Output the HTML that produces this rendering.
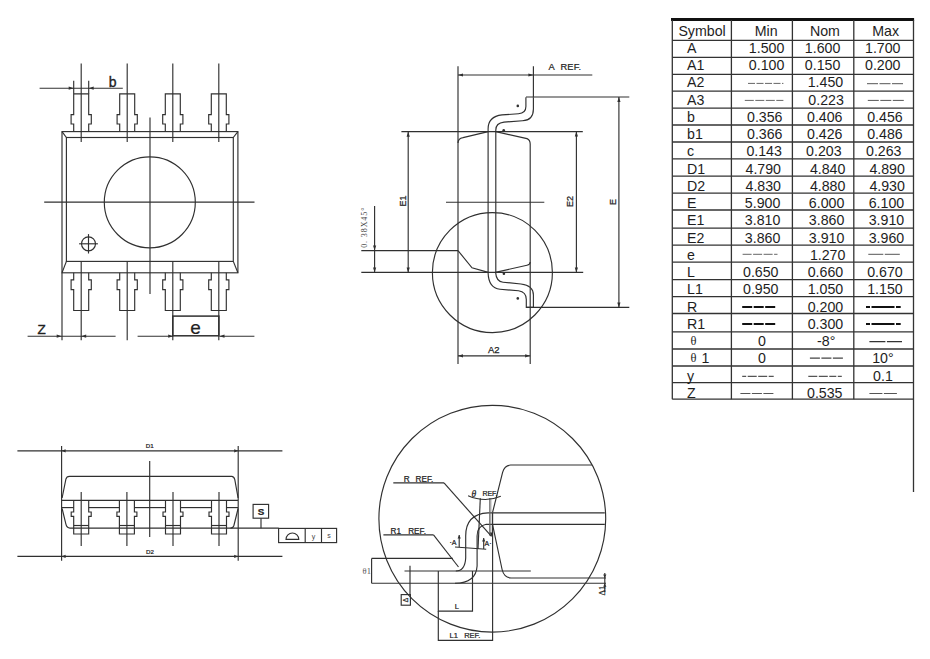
<!DOCTYPE html>
<html><head><meta charset="utf-8"><style>
html,body{margin:0;padding:0;background:#fff;}
svg{display:block;}
</style></head><body>
<svg width="930" height="659" viewBox="0 0 930 659">
<rect width="930" height="659" fill="#fff"/>
<g><rect x="62" y="131.6" width="175.9" height="141.20000000000002" stroke="#303030" stroke-width="1.15" fill="none"/>
<rect x="66.4" y="137.5" width="166.9" height="123.89999999999998" stroke="#303030" stroke-width="1.15" fill="none"/>
<line x1="62" y1="131.6" x2="66.4" y2="137.5" stroke="#303030" stroke-width="1.15"/>
<line x1="237.9" y1="131.6" x2="233.3" y2="137.5" stroke="#303030" stroke-width="1.15"/>
<line x1="62" y1="272.8" x2="66.4" y2="261.4" stroke="#303030" stroke-width="1.15"/>
<line x1="237.9" y1="272.8" x2="233.3" y2="261.4" stroke="#303030" stroke-width="1.15"/>
<path d="M73.7,131.6 V124 H71.10000000000001 V114.6 H73.7 V93.8 H88.7 V114.6 H91.3 V124 H88.7 V131.6" stroke="#303030" stroke-width="1.15" fill="none"/>
<path d="M73.7,272.8 V279.8 H71.10000000000001 V289.6 H73.7 V310.5 H88.7 V289.6 H91.3 V279.8 H88.7 V272.8" stroke="#303030" stroke-width="1.15" fill="none"/>
<line x1="81.2" y1="63.6" x2="81.2" y2="142" stroke="#303030" stroke-width="1.15"/>
<line x1="81.2" y1="261.4" x2="81.2" y2="340.3" stroke="#303030" stroke-width="1.15"/>
<path d="M119.7,131.6 V124 H117.10000000000001 V114.6 H119.7 V93.8 H134.7 V114.6 H137.29999999999998 V124 H134.7 V131.6" stroke="#303030" stroke-width="1.15" fill="none"/>
<path d="M119.7,272.8 V279.8 H117.10000000000001 V289.6 H119.7 V310.5 H134.7 V289.6 H137.29999999999998 V279.8 H134.7 V272.8" stroke="#303030" stroke-width="1.15" fill="none"/>
<line x1="127.2" y1="63.6" x2="127.2" y2="142" stroke="#303030" stroke-width="1.15"/>
<line x1="127.2" y1="261.4" x2="127.2" y2="340.3" stroke="#303030" stroke-width="1.15"/>
<path d="M165.3,131.6 V124 H162.70000000000002 V114.6 H165.3 V93.8 H180.3 V114.6 H182.9 V124 H180.3 V131.6" stroke="#303030" stroke-width="1.15" fill="none"/>
<path d="M165.3,272.8 V279.8 H162.70000000000002 V289.6 H165.3 V310.5 H180.3 V289.6 H182.9 V279.8 H180.3 V272.8" stroke="#303030" stroke-width="1.15" fill="none"/>
<line x1="172.8" y1="63.6" x2="172.8" y2="142" stroke="#303030" stroke-width="1.15"/>
<line x1="172.8" y1="261.4" x2="172.8" y2="340.3" stroke="#303030" stroke-width="1.15"/>
<path d="M211.3,131.6 V124 H208.70000000000002 V114.6 H211.3 V93.8 H226.3 V114.6 H228.9 V124 H226.3 V131.6" stroke="#303030" stroke-width="1.15" fill="none"/>
<path d="M211.3,272.8 V279.8 H208.70000000000002 V289.6 H211.3 V310.5 H226.3 V289.6 H228.9 V279.8 H226.3 V272.8" stroke="#303030" stroke-width="1.15" fill="none"/>
<line x1="218.8" y1="63.6" x2="218.8" y2="142" stroke="#303030" stroke-width="1.15"/>
<line x1="218.8" y1="261.4" x2="218.8" y2="340.3" stroke="#303030" stroke-width="1.15"/>
<line x1="150" y1="117.6" x2="150" y2="294" stroke="#303030" stroke-width="1.15"/>
<line x1="44.2" y1="202.1" x2="254.5" y2="202.1" stroke="#303030" stroke-width="1.15"/>
<circle cx="149.8" cy="202.3" r="45.5" stroke="#303030" stroke-width="1.15" fill="none"/>
<circle cx="88.5" cy="243.8" r="7.0" stroke="#303030" stroke-width="1.15" fill="none"/>
<line x1="79.1" y1="243.8" x2="97.9" y2="243.8" stroke="#303030" stroke-width="1.15"/>
<line x1="88.5" y1="234.1" x2="88.5" y2="253.5" stroke="#303030" stroke-width="1.15"/>
<line x1="73.7" y1="80.7" x2="73.7" y2="93.8" stroke="#303030" stroke-width="1.15"/>
<line x1="88.7" y1="80.7" x2="88.7" y2="93.8" stroke="#303030" stroke-width="1.15"/>
<line x1="39.6" y1="88.2" x2="122.8" y2="88.2" stroke="#303030" stroke-width="1.15"/>
<path d="M73.7,88.2 L68.7,86.60000000000001 L68.7,89.8 Z" fill="#303030" stroke="none"/>
<path d="M88.7,88.2 L93.7,86.60000000000001 L93.7,89.8 Z" fill="#303030" stroke="none"/>
<text x="108.7" y="86.8" font-family="Liberation Sans" font-size="14" font-weight="normal" text-anchor="start" fill="#222" stroke="#222" stroke-width="0.35">b</text>
<line x1="62" y1="272.8" x2="62" y2="340.3" stroke="#303030" stroke-width="1.15"/>
<line x1="27.6" y1="336.2" x2="115.6" y2="336.2" stroke="#303030" stroke-width="1.15"/>
<path d="M61.7,336.2 L56.7,334.59999999999997 L56.7,337.8 Z" fill="#303030" stroke="none"/>
<path d="M81.2,336.2 L86.2,334.59999999999997 L86.2,337.8 Z" fill="#303030" stroke="none"/>
<text x="37.4" y="333.8" font-family="Liberation Sans" font-size="13.5" font-weight="normal" text-anchor="start" fill="#222" stroke="#222" stroke-width="0.35">Z</text>
<rect x="172.8" y="316.1" width="46.1" height="19.7" stroke="#303030" stroke-width="1.5" fill="none"/>
<line x1="137.6" y1="336.2" x2="173.2" y2="336.2" stroke="#303030" stroke-width="1.15"/>
<line x1="219.5" y1="336.2" x2="254.4" y2="336.2" stroke="#303030" stroke-width="1.15"/>
<path d="M173.2,336.2 L168.2,334.59999999999997 L168.2,337.8 Z" fill="#303030" stroke="none"/>
<path d="M219.5,336.2 L224.5,334.59999999999997 L224.5,337.8 Z" fill="#303030" stroke="none"/>
<text x="195.5" y="334.3" font-family="Liberation Sans" font-size="19" font-weight="normal" text-anchor="middle" fill="#222" stroke="#222" stroke-width="0.2">e</text>
<line x1="458" y1="66.3" x2="458" y2="364" stroke="#303030" stroke-width="1.15"/>
<line x1="533.4" y1="66.3" x2="533.4" y2="97.2" stroke="#303030" stroke-width="1.15"/>
<line x1="458" y1="75" x2="592.3" y2="75" stroke="#303030" stroke-width="1.15"/>
<path d="M458,75 L463,73.4 L463,76.6 Z" fill="#303030" stroke="none"/>
<path d="M533.4,75 L528.4,73.4 L528.4,76.6 Z" fill="#303030" stroke="none"/>
<text x="548.6" y="69.8" font-family="Liberation Sans" font-size="9.3" font-weight="normal" text-anchor="start" fill="#222" stroke="#222" stroke-width="0.22" letter-spacing="0.15">A&#160;&#160;REF.</text>
<line x1="526" y1="97" x2="629.3" y2="97" stroke="#303030" stroke-width="1.15"/>
<line x1="526" y1="307.4" x2="629.3" y2="307.4" stroke="#303030" stroke-width="1.15"/>
<line x1="401.4" y1="131.6" x2="582.8" y2="131.6" stroke="#303030" stroke-width="1.15"/>
<line x1="361.3" y1="272.4" x2="583.2" y2="272.4" stroke="#303030" stroke-width="1.15"/>
<line x1="361.3" y1="250.6" x2="458" y2="250.6" stroke="#303030" stroke-width="1.15"/>
<path d="M458,143 Q458,138.5 463,137.6 L488.2,131.6" stroke="#303030" stroke-width="1.15" fill="none"/>
<path d="M495.8,131.6 L527,138.6 Q530.2,140 530.2,144 V262 Q530.2,264.5 527,265.2 L495.4,272.4" stroke="#303030" stroke-width="1.15" fill="none"/>
<path d="M458,250.6 L472,267.8 L488.3,272.4" stroke="#303030" stroke-width="1.15" fill="none"/>
<line x1="530.2" y1="262" x2="530.2" y2="364" stroke="#303030" stroke-width="1.15"/>
<path d="M525.9,97.2 V106.5 Q525.9,113.2 518.5,113.7 L502,114.9 Q488.1,116.5 488.1,129 V273" stroke="#303030" stroke-width="1.15" fill="none"/>
<path d="M533.4,97.2 V109 Q533.4,120.3 522.5,120.8 L504,122.1 Q495.8,123 495.8,130 V273" stroke="#303030" stroke-width="1.15" fill="none"/>
<path d="M488.1,273 Q488.6,288 500,289.2 L518.5,290.8 Q526.3,292 526.3,299.5 V307.3 H533.4" stroke="#303030" stroke-width="1.15" fill="none"/>
<path d="M495.6,272.4 Q496.3,281.6 503,282.2 L521,284 Q533.4,285.5 533.4,295 V307.3" stroke="#303030" stroke-width="1.15" fill="none"/>
<circle cx="517.8" cy="105.9" r="1.1" stroke="none" stroke-width="0" fill="none"/>
<circle cx="517.8" cy="105.9" r="1.3" fill="#303030"/>
<circle cx="503.7" cy="130.2" r="1.1" stroke="none" stroke-width="0" fill="none"/>
<circle cx="503.7" cy="130.2" r="1.3" fill="#303030"/>
<circle cx="503.9" cy="273.8" r="1.1" stroke="none" stroke-width="0" fill="none"/>
<circle cx="503.9" cy="273.8" r="1.3" fill="#303030"/>
<circle cx="517.8" cy="298.4" r="1.1" stroke="none" stroke-width="0" fill="none"/>
<circle cx="517.8" cy="298.4" r="1.3" fill="#303030"/>
<line x1="446" y1="202.2" x2="544.3" y2="202.2" stroke="#303030" stroke-width="1.15"/>
<circle cx="492.4" cy="272.6" r="60" stroke="#303030" stroke-width="1.15" fill="none"/>
<line x1="458" y1="355.8" x2="530.1" y2="355.8" stroke="#303030" stroke-width="1.15"/>
<path d="M458,355.8 L463,354.2 L463,357.40000000000003 Z" fill="#303030" stroke="none"/>
<path d="M530.1,355.8 L525.1,354.2 L525.1,357.40000000000003 Z" fill="#303030" stroke="none"/>
<text x="493.8" y="352.6" font-family="Liberation Sans" font-size="9.5" font-weight="normal" text-anchor="middle" fill="#222" stroke="#222" stroke-width="0.25">A2</text>
<line x1="408.2" y1="131.8" x2="408.2" y2="272.4" stroke="#303030" stroke-width="1.15"/>
<path d="M408.2,131.8 L406.59999999999997,136.8 L409.8,136.8 Z" fill="#303030" stroke="none"/>
<path d="M408.2,272.4 L406.59999999999997,267.4 L409.8,267.4 Z" fill="#303030" stroke="none"/>
<text x="0" y="0" font-family="Liberation Sans" font-size="9" font-weight="normal" text-anchor="middle" fill="#222" stroke="#222" stroke-width="0.25" transform="translate(405.9,201) rotate(-90)">E1</text>
<line x1="374.6" y1="206" x2="374.6" y2="272.4" stroke="#303030" stroke-width="1.15"/>
<path d="M374.6,272.4 L373.0,267.4 L376.20000000000005,267.4 Z" fill="#303030" stroke="none"/>
<path d="M374.6,250.6 L373.0,245.6 L376.20000000000005,245.6 Z" fill="#303030" stroke="none"/>
<text x="0" y="0" font-family="Liberation Serif" font-size="8" font-weight="normal" text-anchor="middle" fill="#444" letter-spacing="0.9" transform="translate(367.4,227.3) rotate(-90)">0.&#160;38X45&#176;</text>
<line x1="576.4" y1="131.6" x2="576.4" y2="272.4" stroke="#303030" stroke-width="1.15"/>
<path d="M576.4,131.6 L574.8,136.6 L578.0,136.6 Z" fill="#303030" stroke="none"/>
<path d="M576.4,272.4 L574.8,267.4 L578.0,267.4 Z" fill="#303030" stroke="none"/>
<text x="0" y="0" font-family="Liberation Sans" font-size="9" font-weight="normal" text-anchor="middle" fill="#222" stroke="#222" stroke-width="0.25" transform="translate(572.9,201.5) rotate(-90)">E2</text>
<line x1="618.9" y1="97" x2="618.9" y2="307.4" stroke="#303030" stroke-width="1.15"/>
<path d="M618.9,97 L617.3,102 L620.5,102 Z" fill="#303030" stroke="none"/>
<path d="M618.9,307.4 L617.3,302.4 L620.5,302.4 Z" fill="#303030" stroke="none"/>
<text x="0" y="0" font-family="Liberation Sans" font-size="9" font-weight="normal" text-anchor="middle" fill="#222" stroke="#222" stroke-width="0.25" transform="translate(615.6,201.9) rotate(-90)">E</text>
<line x1="17.4" y1="450.8" x2="282.4" y2="450.8" stroke="#303030" stroke-width="1.15"/>
<line x1="17.4" y1="556.4" x2="282.4" y2="556.4" stroke="#303030" stroke-width="1.15"/>
<line x1="61.6" y1="446" x2="61.6" y2="560.7" stroke="#303030" stroke-width="1.15"/>
<line x1="238.2" y1="446" x2="238.2" y2="560.7" stroke="#303030" stroke-width="1.15"/>
<path d="M61.6,450.8 L65.6,449.2 L65.6,452.40000000000003 Z" fill="#303030" stroke="none"/>
<path d="M238.2,450.8 L234.2,449.2 L234.2,452.40000000000003 Z" fill="#303030" stroke="none"/>
<path d="M61.6,556.4 L65.6,554.8 L65.6,558.0 Z" fill="#303030" stroke="none"/>
<path d="M238.2,556.4 L234.2,554.8 L234.2,558.0 Z" fill="#303030" stroke="none"/>
<text x="149.7" y="448" font-family="Liberation Sans" font-size="6.2" font-weight="normal" text-anchor="middle" fill="#222" stroke="#222" stroke-width="0.22" >D1</text>
<text x="150" y="554" font-family="Liberation Sans" font-size="6.2" font-weight="normal" text-anchor="middle" fill="#222" stroke="#222" stroke-width="0.22" >D2</text>
<path d="M62.1,498 L65.9,479.2 Q66.6,476.3 69.5,476.3 H231.6 Q234,476.3 234.8,479.6 L238.1,498" stroke="#303030" stroke-width="1.15" fill="none"/>
<line x1="62" y1="500.4" x2="238" y2="500.4" stroke="#303030" stroke-width="1.15"/>
<path d="M62.1,508.5 L65.9,524.2 Q66.8,528.1 70,528.1 H278.6" stroke="#303030" stroke-width="1.15" fill="none"/>
<path d="M238.1,508.5 L233.9,525.5 Q233.1,528.1 230.5,528.1" stroke="#303030" stroke-width="1.15" fill="none"/>
<path d="M73.7,500.4 V512 H71.2 V516.3 H73.7 V534 H88.7 V516.3 H91.2 V512 H88.7 V500.4" stroke="#303030" stroke-width="1.15" fill="none"/>
<line x1="73.7" y1="525.5" x2="88.7" y2="525.5" stroke="#303030" stroke-width="1.15"/>
<line x1="81.2" y1="492" x2="81.2" y2="546" stroke="#303030" stroke-width="1.15"/>
<path d="M119.4,500.4 V512 H116.9 V516.3 H119.4 V534 H134.4 V516.3 H136.9 V512 H134.4 V500.4" stroke="#303030" stroke-width="1.15" fill="none"/>
<line x1="119.4" y1="525.5" x2="134.4" y2="525.5" stroke="#303030" stroke-width="1.15"/>
<line x1="126.9" y1="492" x2="126.9" y2="546" stroke="#303030" stroke-width="1.15"/>
<path d="M165.5,500.4 V512 H163.0 V516.3 H165.5 V534 H180.5 V516.3 H183.0 V512 H180.5 V500.4" stroke="#303030" stroke-width="1.15" fill="none"/>
<line x1="165.5" y1="525.5" x2="180.5" y2="525.5" stroke="#303030" stroke-width="1.15"/>
<line x1="173" y1="492" x2="173" y2="546" stroke="#303030" stroke-width="1.15"/>
<path d="M211.5,500.4 V512 H209.0 V516.3 H211.5 V534 H226.5 V516.3 H229.0 V512 H226.5 V500.4" stroke="#303030" stroke-width="1.15" fill="none"/>
<line x1="211.5" y1="525.5" x2="226.5" y2="525.5" stroke="#303030" stroke-width="1.15"/>
<line x1="219" y1="492" x2="219" y2="546" stroke="#303030" stroke-width="1.15"/>
<line x1="62" y1="507.6" x2="73.7" y2="507.6" stroke="#303030" stroke-width="1.15"/>
<line x1="88.7" y1="507.6" x2="119.4" y2="507.6" stroke="#303030" stroke-width="1.15"/>
<line x1="134.4" y1="507.6" x2="165.5" y2="507.6" stroke="#303030" stroke-width="1.15"/>
<line x1="180.5" y1="507.6" x2="211.5" y2="507.6" stroke="#303030" stroke-width="1.15"/>
<line x1="226.5" y1="507.6" x2="238" y2="507.6" stroke="#303030" stroke-width="1.15"/>
<line x1="149.7" y1="461" x2="149.7" y2="537" stroke="#303030" stroke-width="1.15"/>
<rect x="253.1" y="504.4" width="15.5" height="13.8" stroke="#303030" stroke-width="1.15" fill="none"/>
<line x1="261" y1="518.2" x2="261" y2="528.3" stroke="#303030" stroke-width="1.15"/>
<text x="260.9" y="515.3" font-family="Liberation Sans" font-size="9.8" font-weight="bold" text-anchor="middle" fill="#222" stroke="#222" stroke-width="0.22" >S</text>
<rect x="278.6" y="528.4" width="58" height="14.2" stroke="#303030" stroke-width="1.15" fill="none"/>
<line x1="305.2" y1="528.4" x2="305.2" y2="542.6" stroke="#303030" stroke-width="1.15"/>
<line x1="321.5" y1="528.4" x2="321.5" y2="542.6" stroke="#303030" stroke-width="1.15"/>
<path d="M286,539.4 A6.4,6.4 0 0 1 298.8,539.4 Z" stroke="#303030" stroke-width="1.1" fill="none"/>
<text x="313.5" y="538.6" font-family="Liberation Sans" font-size="7" font-weight="normal" text-anchor="middle" fill="#444" >y</text>
<text x="329" y="538.4" font-family="Liberation Sans" font-size="7" font-weight="normal" text-anchor="middle" fill="#444" >s</text>
<circle cx="492.3" cy="518.7" r="113.4" stroke="#303030" stroke-width="1.15" fill="none"/>
<path d="M591.9,465 H510.6 Q504.5,465.5 502.6,472.3 L492.5,512.7" stroke="#303030" stroke-width="1.15" fill="none"/>
<path d="M492.5,524.3 L502.1,569.5 Q504,577.6 511,578 H606" stroke="#303030" stroke-width="1.15" fill="none"/>
<line x1="492.5" y1="512.9" x2="604.8" y2="512.9" stroke="#303030" stroke-width="1.15"/>
<line x1="492.5" y1="524.3" x2="604.8" y2="524.3" stroke="#303030" stroke-width="1.15"/>
<path d="M492.5,512.9 H488 Q465.7,514 465.7,536 V558 Q465,571 455.8,571" stroke="#303030" stroke-width="1.15" fill="none"/>
<path d="M492.5,524.3 H486.2 Q477.1,526 477.1,536 V566 Q476,583.2 455,583.2" stroke="#303030" stroke-width="1.15" fill="none"/>
<line x1="371.6" y1="583.2" x2="606" y2="583.2" stroke="#303030" stroke-width="1.15"/>
<line x1="404.5" y1="571" x2="530.8" y2="571" stroke="#303030" stroke-width="1.15"/>
<line x1="371.6" y1="558.4" x2="371.6" y2="583.2" stroke="#303030" stroke-width="1.15"/>
<line x1="371.6" y1="558.4" x2="452.8" y2="558.4" stroke="#303030" stroke-width="1.15"/>
<text x="362.6" y="574.2" font-family="Liberation Serif" font-size="8.5" font-weight="normal" text-anchor="start" fill="#555" >&#952;1</text>
<line x1="410" y1="565.8" x2="410" y2="594.6" stroke="#303030" stroke-width="1.15"/>
<rect x="401.2" y="594.6" width="9.2" height="10.6" stroke="#303030" stroke-width="1.15" fill="none"/>
<text x="0" y="0" font-family="Liberation Sans" font-size="6.5" font-weight="normal" text-anchor="middle" fill="#222" stroke="#222" stroke-width="0.22" transform="translate(408,600) rotate(-90)">&#916;</text>
<path d="M438.3,571 V611.1 H472.5 V571" stroke="#303030" stroke-width="1.15" fill="none"/>
<text x="456.8" y="609" font-family="Liberation Sans" font-size="7.5" font-weight="normal" text-anchor="middle" fill="#222" stroke="#222" stroke-width="0.22" >L</text>
<path d="M438.3,611 V640.3 H492.6 V512.7" stroke="#303030" stroke-width="1.15" fill="none"/>
<line x1="489.5" y1="498" x2="489.5" y2="535.7" stroke="#666" stroke-width="0.8"/>
<line x1="490.8" y1="498" x2="490.8" y2="535.7" stroke="#666" stroke-width="0.8"/>
<text x="465" y="638.4" font-family="Liberation Sans" font-size="7.5" font-weight="normal" text-anchor="middle" fill="#222" stroke="#222" stroke-width="0.22" >L1&#160;&#160;&#160;REF.</text>
<line x1="480.3" y1="498.3" x2="478" y2="549" stroke="#303030" stroke-width="1.15"/>
<path d="M468.1,495.7 Q485,503 500.8,496.2" stroke="#303030" stroke-width="1.15" fill="none"/>
<text x="471.6" y="496.7" font-family="Liberation Serif" font-size="9.5" font-weight="normal" text-anchor="start" fill="#222" stroke="#222" stroke-width="0.22" font-style="italic">&#952;</text>
<text x="482.4" y="496.3" font-family="Liberation Sans" font-size="7" font-weight="normal" text-anchor="start" fill="#222" stroke="#222" stroke-width="0.22" >REF.</text>
<line x1="393.3" y1="482.9" x2="444" y2="482.9" stroke="#303030" stroke-width="1.15"/>
<line x1="444" y1="482.9" x2="491.5" y2="536.4" stroke="#303030" stroke-width="1.15"/>
<path d="M491.5,536.4 L489.9,532.4 L493.1,532.4 Z" fill="#303030" stroke="none"/>
<text x="403.8" y="482.2" font-family="Liberation Sans" font-size="8.2" font-weight="normal" text-anchor="start" fill="#222" stroke="#222" stroke-width="0.22" >R</text>
<text x="415.6" y="482.2" font-family="Liberation Sans" font-size="8.2" font-weight="normal" text-anchor="start" fill="#222" stroke="#222" stroke-width="0.22" >REF.</text>
<line x1="383.4" y1="534.9" x2="433.5" y2="534.9" stroke="#303030" stroke-width="1.15"/>
<line x1="433.5" y1="534.9" x2="458.5" y2="567" stroke="#303030" stroke-width="1.15"/>
<text x="390.6" y="533.8" font-family="Liberation Sans" font-size="8.2" font-weight="normal" text-anchor="start" fill="#222" stroke="#222" stroke-width="0.22" >R1</text>
<text x="408.2" y="533.8" font-family="Liberation Sans" font-size="8.2" font-weight="normal" text-anchor="start" fill="#222" stroke="#222" stroke-width="0.22" >REF.</text>
<line x1="455" y1="547" x2="486.2" y2="549.3" stroke="#303030" stroke-width="1.15"/>
<line x1="459.2" y1="535" x2="459.2" y2="547" stroke="#303030" stroke-width="1.15"/>
<path d="M459.2,535 L457.59999999999997,538.5 L460.8,538.5 Z" fill="#303030" stroke="none"/>
<line x1="483.7" y1="538" x2="483.7" y2="549" stroke="#303030" stroke-width="1.15"/>
<path d="M483.7,538 L482.09999999999997,541.5 L485.3,541.5 Z" fill="#303030" stroke="none"/>
<text x="453" y="544.5" font-family="Liberation Sans" font-size="7" font-weight="normal" text-anchor="middle" fill="#222" stroke="#222" stroke-width="0.22" >&#183;A</text>
<text x="488" y="545.8" font-family="Liberation Sans" font-size="7" font-weight="normal" text-anchor="middle" fill="#222" stroke="#222" stroke-width="0.22" >A&#183;</text>
<line x1="604.8" y1="573" x2="604.8" y2="592" stroke="#303030" stroke-width="1.15"/>
<path d="M604.8,578 L603.1999999999999,574.5 L606.4,574.5 Z" fill="#303030" stroke="none"/>
<path d="M604.8,583.2 L603.1999999999999,586.7 L606.4,586.7 Z" fill="#303030" stroke="none"/>
<text x="0" y="0" font-family="Liberation Serif" font-size="8.5" font-weight="normal" text-anchor="middle" fill="#222" stroke="#222" stroke-width="0.22" transform="translate(604.6,590.7) rotate(-90)">&#916;1</text></g>
<g font-family="Liberation Sans" fill="#1e1e1e"><rect x="671" y="18" width="243.1" height="3" fill="#111"/>
<line x1="672.3" y1="40.3" x2="913.5" y2="40.3" stroke="#333" stroke-width="1.3"/>
<line x1="672.3" y1="57.3" x2="913.5" y2="57.3" stroke="#333" stroke-width="1.3"/>
<line x1="672.3" y1="74.3" x2="913.5" y2="74.3" stroke="#333" stroke-width="1.3"/>
<line x1="672.3" y1="91.2" x2="913.5" y2="91.2" stroke="#333" stroke-width="1.3"/>
<line x1="672.3" y1="108.1" x2="913.5" y2="108.1" stroke="#333" stroke-width="1.3"/>
<line x1="672.3" y1="125.0" x2="913.5" y2="125.0" stroke="#333" stroke-width="1.3"/>
<line x1="672.3" y1="142.0" x2="913.5" y2="142.0" stroke="#333" stroke-width="1.3"/>
<line x1="672.3" y1="158.8" x2="913.5" y2="158.8" stroke="#333" stroke-width="1.3"/>
<line x1="672.3" y1="176.1" x2="913.5" y2="176.1" stroke="#333" stroke-width="1.3"/>
<line x1="672.3" y1="193.1" x2="913.5" y2="193.1" stroke="#333" stroke-width="1.3"/>
<line x1="672.3" y1="210.0" x2="913.5" y2="210.0" stroke="#333" stroke-width="1.3"/>
<line x1="672.3" y1="228.1" x2="913.5" y2="228.1" stroke="#333" stroke-width="1.3"/>
<line x1="672.3" y1="245.2" x2="913.5" y2="245.2" stroke="#333" stroke-width="1.3"/>
<line x1="672.3" y1="262.1" x2="913.5" y2="262.1" stroke="#333" stroke-width="1.3"/>
<line x1="672.3" y1="279.6" x2="913.5" y2="279.6" stroke="#333" stroke-width="1.3"/>
<line x1="672.3" y1="296.7" x2="913.5" y2="296.7" stroke="#333" stroke-width="1.3"/>
<line x1="672.3" y1="313.5" x2="913.5" y2="313.5" stroke="#333" stroke-width="1.3"/>
<line x1="672.3" y1="331.8" x2="913.5" y2="331.8" stroke="#333" stroke-width="1.3"/>
<line x1="672.3" y1="349.0" x2="913.5" y2="349.0" stroke="#333" stroke-width="1.3"/>
<line x1="672.3" y1="366.0" x2="913.5" y2="366.0" stroke="#333" stroke-width="1.3"/>
<line x1="672.3" y1="382.7" x2="913.5" y2="382.7" stroke="#333" stroke-width="1.3"/>
<line x1="672.3" y1="399.2" x2="913.5" y2="399.2" stroke="#333" stroke-width="1.3"/>
<line x1="672.3" y1="20" x2="672.3" y2="399.2" stroke="#333" stroke-width="1.3"/>
<line x1="731.4" y1="20" x2="731.4" y2="399.2" stroke="#333" stroke-width="1.3"/>
<line x1="792.4" y1="20" x2="792.4" y2="399.2" stroke="#333" stroke-width="1.3"/>
<line x1="853.8" y1="20" x2="853.8" y2="399.2" stroke="#333" stroke-width="1.3"/>
<line x1="913.5" y1="20" x2="913.5" y2="492" stroke="#333" stroke-width="1.3"/>
<text x="678.4" y="35.6" font-size="14.2">Symbol</text>
<text x="754.8" y="35.6" font-size="14.2">Min</text>
<text x="809.9" y="35.6" font-size="14.2">Nom</text>
<text x="872.2" y="35.6" font-size="14.2">Max</text>
<text x="687" y="52.85" font-size="14.2">A</text>
<text x="748.8" y="52.85" font-size="14.2">1.500</text>
<text x="804.8" y="52.85" font-size="14.2">1.600</text>
<text x="865" y="52.85" font-size="14.2">1.700</text>
<text x="687" y="70.1" font-size="14.2">A1</text>
<text x="748.8" y="70.1" font-size="14.2">0.100</text>
<text x="804.8" y="70.1" font-size="14.2">0.150</text>
<text x="865" y="70.1" font-size="14.2">0.200</text>
<text x="687" y="87.35" font-size="14.2">A2</text>
<text x="807.7" y="87.35" font-size="14.2">1.450</text>
<text x="687" y="104.6" font-size="14.2">A3</text>
<text x="808.3" y="104.6" font-size="14.2">0.223</text>
<text x="687" y="121.85" font-size="14.2">b</text>
<text x="747" y="121.85" font-size="14.2">0.356</text>
<text x="807" y="121.85" font-size="14.2">0.406</text>
<text x="867.2" y="121.85" font-size="14.2">0.456</text>
<text x="687" y="139.1" font-size="14.2">b1</text>
<text x="747" y="139.1" font-size="14.2">0.366</text>
<text x="807" y="139.1" font-size="14.2">0.426</text>
<text x="867.2" y="139.1" font-size="14.2">0.486</text>
<text x="687" y="156.35" font-size="14.2">c</text>
<text x="746.4" y="156.35" font-size="14.2">0.143</text>
<text x="806.1" y="156.35" font-size="14.2">0.203</text>
<text x="866" y="156.35" font-size="14.2">0.263</text>
<text x="687" y="173.6" font-size="14.2">D1</text>
<text x="745.5" y="173.6" font-size="14.2">4.790</text>
<text x="809.9" y="173.6" font-size="14.2">4.840</text>
<text x="869.4" y="173.6" font-size="14.2">4.890</text>
<text x="687" y="190.85" font-size="14.2">D2</text>
<text x="745.5" y="190.85" font-size="14.2">4.830</text>
<text x="809.9" y="190.85" font-size="14.2">4.880</text>
<text x="869.4" y="190.85" font-size="14.2">4.930</text>
<text x="687" y="208.1" font-size="14.2">E</text>
<text x="744.8" y="208.1" font-size="14.2">5.900</text>
<text x="808.8" y="208.1" font-size="14.2">6.000</text>
<text x="868.7" y="208.1" font-size="14.2">6.100</text>
<text x="687" y="225.35" font-size="14.2">E1</text>
<text x="744.8" y="225.35" font-size="14.2">3.810</text>
<text x="808.8" y="225.35" font-size="14.2">3.860</text>
<text x="868.7" y="225.35" font-size="14.2">3.910</text>
<text x="687" y="242.6" font-size="14.2">E2</text>
<text x="744.8" y="242.6" font-size="14.2">3.860</text>
<text x="808.8" y="242.6" font-size="14.2">3.910</text>
<text x="868.7" y="242.6" font-size="14.2">3.960</text>
<text x="687" y="259.85" font-size="14.2">e</text>
<text x="809.9" y="259.85" font-size="14.2">1.270</text>
<text x="687" y="277.1" font-size="14.2">L</text>
<text x="743" y="277.1" font-size="14.2">0.650</text>
<text x="807.7" y="277.1" font-size="14.2">0.660</text>
<text x="867.2" y="277.1" font-size="14.2">0.670</text>
<text x="687" y="294.35" font-size="14.2">L1</text>
<text x="743" y="294.35" font-size="14.2">0.950</text>
<text x="807.7" y="294.35" font-size="14.2">1.050</text>
<text x="867.2" y="294.35" font-size="14.2">1.150</text>
<text x="687" y="311.6" font-size="14.2">R</text>
<text x="807.7" y="311.6" font-size="14.2">0.200</text>
<text x="687" y="328.85" font-size="14.2">R1</text>
<text x="807.7" y="328.85" font-size="14.2">0.300</text>
<text x="690.6" y="344.8" font-size="12.5" font-family="Liberation Serif">θ</text>
<text x="758" y="346.1" font-size="14.2">0</text>
<text x="817.1" y="346.1" font-size="14.2">-8°</text>
<text x="690.6" y="362.05" font-size="12.5" font-family="Liberation Serif">θ</text>
<text x="701.6" y="363.35" font-size="14.2">1</text>
<text x="758" y="363.35" font-size="14.2">0</text>
<text x="872.2" y="363.35" font-size="14.2">10°</text>
<text x="687" y="380.6" font-size="14.2">y</text>
<text x="873.1" y="380.6" font-size="14.2">0.1</text>
<text x="687" y="397.85" font-size="14.2">Z</text>
<text x="807" y="397.85" font-size="14.2">0.535</text>
<line x1="748" y1="83.4" x2="783.4" y2="83.4" stroke="#666" stroke-width="1" stroke-dasharray="7,1.5"/>
<line x1="867" y1="83.7" x2="903.5" y2="83.7" stroke="#555" stroke-width="1" stroke-dasharray="11,1.5"/>
<line x1="744.8" y1="100.4" x2="783.4" y2="100.4" stroke="#666" stroke-width="1" stroke-dasharray="9,1.5"/>
<line x1="867.8" y1="100.4" x2="904.6" y2="100.4" stroke="#555" stroke-width="1" stroke-dasharray="11,1.5"/>
<line x1="742.6" y1="254.3" x2="777.5" y2="254.3" stroke="#666" stroke-width="1" stroke-dasharray="9,1.5"/>
<line x1="868.3" y1="254.3" x2="901.3" y2="254.3" stroke="#555" stroke-width="1" stroke-dasharray="15,1.5"/>
<line x1="742.2" y1="306.9" x2="775.7" y2="306.9" stroke="#111" stroke-width="2" stroke-dasharray="10,1.5"/>
<line x1="866" y1="306.9" x2="900.7" y2="306.9" stroke="#111" stroke-width="2" stroke-dasharray="4,1.5,23,1.5,5"/>
<line x1="742.2" y1="323.9" x2="775.7" y2="323.9" stroke="#111" stroke-width="2" stroke-dasharray="10,1.5"/>
<line x1="866" y1="323.9" x2="900.7" y2="323.9" stroke="#111" stroke-width="2" stroke-dasharray="4,1.5,23,1.5,5"/>
<line x1="869.4" y1="341.7" x2="902" y2="341.7" stroke="#333" stroke-width="1.3" stroke-dasharray="16,1.5"/>
<line x1="809.9" y1="358.2" x2="844" y2="358.2" stroke="#444" stroke-width="1.3" stroke-dasharray="10,1.5"/>
<line x1="742.2" y1="376.3" x2="776.8" y2="376.3" stroke="#555" stroke-width="1.3" stroke-dasharray="4,1.5,9,1.5,9,1.5,5"/>
<line x1="808.3" y1="376.3" x2="843" y2="376.3" stroke="#555" stroke-width="1.3" stroke-dasharray="9,1.5,9,1.5,7,1.5,4"/>
<line x1="740.4" y1="393.5" x2="774" y2="393.5" stroke="#555" stroke-width="1.2" stroke-dasharray="10,1.5"/>
<line x1="869.4" y1="393.5" x2="897.4" y2="393.5" stroke="#555" stroke-width="1.2" stroke-dasharray="13,1.5"/></g>
</svg>
</body></html>
